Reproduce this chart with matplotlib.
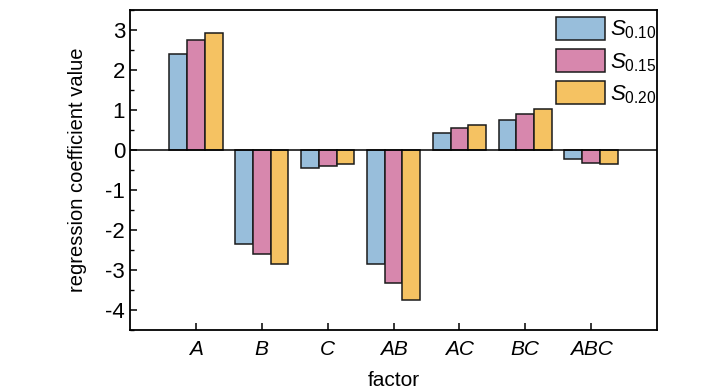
import matplotlib
matplotlib.use("Agg")
import matplotlib.pyplot as plt
from matplotlib import font_manager
from matplotlib.ticker import MultipleLocator
import numpy as np

# pick a narrow Arial-like face if it is there
names = {f.name for f in font_manager.fontManager.ttflist}
face = "Liberation Sans Narrow" if "Liberation Sans Narrow" in names else "Liberation Sans"

plt.rcParams["font.family"] = [face, "DejaVu Sans"]
plt.rcParams["mathtext.fontset"] = "custom"
plt.rcParams["mathtext.rm"] = face
plt.rcParams["mathtext.it"] = face + ":italic"
plt.rcParams["axes.unicode_minus"] = False

factors = ["A", "B", "C", "AB", "AC", "BC", "ABC"]
s010 = [2.41, -2.35, -0.46, -2.86, 0.43, 0.76, -0.22]
s015 = [2.76, -2.60, -0.40, -3.32, 0.55, 0.91, -0.32]
s020 = [2.93, -2.86, -0.36, -3.76, 0.62, 1.03, -0.36]
labels = [r"$S_{\mathrm{0.10}}$", r"$S_{\mathrm{0.15}}$", r"$S_{\mathrm{0.20}}$"]
colors = ["#98bedb", "#d787ad", "#f5c262"]

fig = plt.figure(figsize=(7.28, 3.9), dpi=100)
ax = fig.add_axes([0.1786, 0.1538, 0.7239, 0.8206])

x = np.arange(len(factors))
w = 0.27
for k, (vals, lab, c) in enumerate(zip([s010, s015, s020], labels, colors)):
    ax.bar(x + (k - 1) * w, vals, w, color=c, edgecolor="#1a1a1a", linewidth=1.1, label=lab)

ax.axhline(0, color="black", linewidth=1.1)

ax.set_xlim(-1, 7)
ax.set_ylim(-4.5, 3.5)
ax.set_xticks(x)
ax.set_xticklabels(factors, style="italic", fontsize=15)
ax.yaxis.set_major_locator(MultipleLocator(1))
ax.yaxis.set_minor_locator(MultipleLocator(0.5))
ax.tick_params(axis="y", direction="in", length=5, width=1.1, labelsize=16)
ax.tick_params(axis="y", which="minor", direction="in", length=3, width=1.0)
ax.tick_params(axis="x", direction="in", length=5, width=1.1, pad=7)
for s in ax.spines.values():
    s.set_linewidth(1.3)

ax.set_xlabel("factor", fontsize=15, labelpad=9)
ax.set_ylabel("regression coefficient value", fontsize=14.5, labelpad=13)

ax.legend(loc="upper right", bbox_to_anchor=(1.025, 1.02), frameon=False, fontsize=16,
          handlelength=2.2, handleheight=1.2, labelspacing=0.35, handletextpad=0.25,
          borderaxespad=0.2)

fig.savefig("out.png", dpi=100)
